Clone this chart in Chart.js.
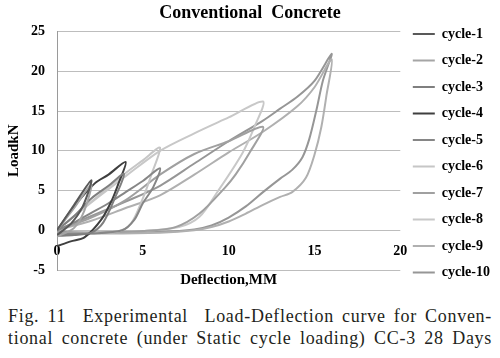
<!DOCTYPE html>
<html>
<head>
<meta charset="utf-8">
<script src="https://cdn.jsdelivr.net/npm/chart.js"></script>
<style>
  body { margin: 0; background: #fff; width: 500px; height: 358px; overflow: hidden; }
  canvas { display: block; }
  .caption { margin-top: 13px; }
  .cap {
    font-family: 'Liberation Serif', serif;
    font-size: 18px;
    line-height: 22px;
    color: #231f20;
    margin: 0 8px;
    text-align: justify;
    text-align-last: justify;
    letter-spacing: 0.7px;
    white-space: nowrap;
  }
</style>
</head>
<body>
<canvas id="chart" width="500" height="292"></canvas>
<div class="caption">
  <div class="cap">Fig. 11&nbsp; Experimental&nbsp; Load-Deflection curve for Conven-</div>
  <div class="cap">tional concrete (under Static cycle loading) CC-3 28 Days</div>
</div>
<script>
// cycle names and line colours
const cycles = ["cycle-1", "cycle-2", "cycle-3", "cycle-4", "cycle-5",
                "cycle-6", "cycle-7", "cycle-8", "cycle-9", "cycle-10"];
const colors = ["#595959", "#a5a5a5", "#7f7f7f", "#3f3f3f", "#868686",
                "#c6c6c6", "#a0a0a0", "#c8c8c8", "#b0b0b0", "#969696"];

// deflection (mm) / load (kN), loading then unloading
const defl1 = [0, 1, 2, 1.5, 0.8, 0];
const load1 = [0, 3.2, 6.3, 3, 0.8, -0.6];

const defl2 = [0, 1, 2, 1.6, 1, 0];
const load2 = [0, 2.8, 5.8, 2.5, 0.3, -0.8];

const defl3 = [0, 1, 2, 3, 3.9, 3.4, 2.7, 2, 1, 0];
const load3 = [0, 1.8, 4, 5.6, 7.1, 4.2, 1, -0.3, -0.6, -0.7];

const defl4 = [0, 1, 2.2, 3, 4, 3.6, 3.2, 2.6, 1.6, 0.8, 0];
const load4 = [0, 3, 5.9, 7, 8.6, 6, 3.8, 1.4, -0.9, -1.4, -2];

const defl5 = [0, 1, 2, 3, 4, 5, 6, 5.6, 5, 4.5, 3.8, 2, 0];
const load5 = [0, 1, 2.2, 3.4, 4.8, 6.2, 7.8, 5.4, 3.4, 1.3, 0, -0.4, -0.5];

const defl6 = [0, 1, 2, 3, 4, 5, 6, 5.5, 5, 4.3, 3.5, 2, 0];
const load6 = [0, 1.8, 3.6, 5.4, 7.2, 8.8, 10.4, 7, 4, 0.8, -0.2, -0.4, -0.5];

const defl7 = [0, 2, 4, 6, 8, 10, 12, 11.2, 10.4, 9.8, 8.3, 6.9, 5, 2, 0];
const load7 = [0, 1.6, 3.8, 7, 9.6, 11.2, 13, 9.7, 7, 5.4, 2.1, 0.4, -0.1, -0.3, -0.3];

const defl8 = [0, 2, 4, 6, 8, 10, 12, 11.5, 10.8, 9.4, 8.3, 7.1, 5, 2, 0];
const load8 = [0, 3.5, 6.8, 10, 12.2, 14.2, 16.2, 13, 9.7, 5, 1.7, 0.4, -0.1, -0.3, -0.4];

const defl9 = [0, 2, 4, 6, 8, 10, 12, 14, 15, 16, 15.7, 15.4, 15, 14.5, 13.7, 13, 12, 11, 10, 9, 8, 6, 3, 0];
const load9 = [0, 1.2, 2.8, 4.4, 7, 9.8, 12.4, 15.6, 18, 21.5, 17, 13, 9.5, 6.6, 4.8, 4.2, 3.2, 2.1, 1.1, 0.4, 0, -0.3, -0.4, -0.3];

const defl10 = [0, 2, 4, 6, 8, 10, 12, 13, 14, 15, 16, 15.5, 15.1, 14.7, 14.3, 13.7, 13, 12, 11, 10, 9, 8, 6, 3, 0];
const load10 = [0, 1.8, 3.6, 5.6, 8.4, 11.2, 13.8, 15.3, 16.8, 18.8, 22.2, 18.9, 15, 11.5, 9.2, 7.6, 6.5, 4.8, 3, 1.6, 0.6, 0.1, -0.2, -0.3, -0.2];

const deflections = [defl1, defl2, defl3, defl4, defl5, defl6, defl7, defl8, defl9, defl10];
const loads = [load1, load2, load3, load4, load5, load6, load7, load8, load9, load10];

Chart.defaults.font.family = "'Liberation Serif', 'Times New Roman', serif";
Chart.defaults.font.weight = 'bold';
Chart.defaults.color = '#000';

const datasets = cycles.map((name, i) => ({
  label: name,
  data: deflections[i].map((d, j) => ({x: d, y: loads[i][j]})),
  borderColor: colors[i],
  backgroundColor: colors[i],
  borderWidth: 2,
  showLine: true,
  pointRadius: 0,
  tension: 0.3
}));

new Chart(document.getElementById("chart"), {
  type: 'scatter',
  data: { datasets: datasets },
  options: {
    responsive: false,
    animation: false,
    layout: { padding: 0 },
    plugins: {
      title: {
        display: true,
        text: 'Conventional  Concrete',
        font: { size: 18, weight: 'bold' },
        padding: { top: 3, bottom: 7 }
      },
      subtitle: {
        display: true,
        text: 'Deflection,MM',
        position: 'bottom',
        fullSize: false,
        font: { size: 15, weight: 'bold' },
        padding: { top: 1, bottom: 3 }
      },
      legend: {
        position: 'right',
        align: 'end',
        labels: {
          usePointStyle: true,
          pointStyle: 'line',
          pointStyleWidth: 22,
          padding: 12.5,
          font: { size: 14, weight: 'bold' }
        }
      },
      tooltip: { enabled: false }
    },
    scales: {
      x: {
        type: 'linear',
        position: { y: 0 },
        min: 0,
        max: 20,
        ticks: { stepSize: 5, padding: 13, font: { size: 14 } },
        grid: { display: false, drawTicks: false },
        border: { display: false }
      },
      y: {
        min: -5,
        max: 25,
        ticks: { stepSize: 5, padding: 12, font: { size: 14 } },
        grid: { color: '#bdbdbd', drawTicks: false },
        border: { display: true, color: '#9a9a9a' },
        title: {
          display: true,
          text: 'LoadkN',
          font: { size: 15, weight: 'bold' },
          padding: { top: 5, bottom: 0 }
        },
        afterFit: (scale) => { scale.width = 57; }
      }
    }
  }
});
</script>
</body>
</html>
